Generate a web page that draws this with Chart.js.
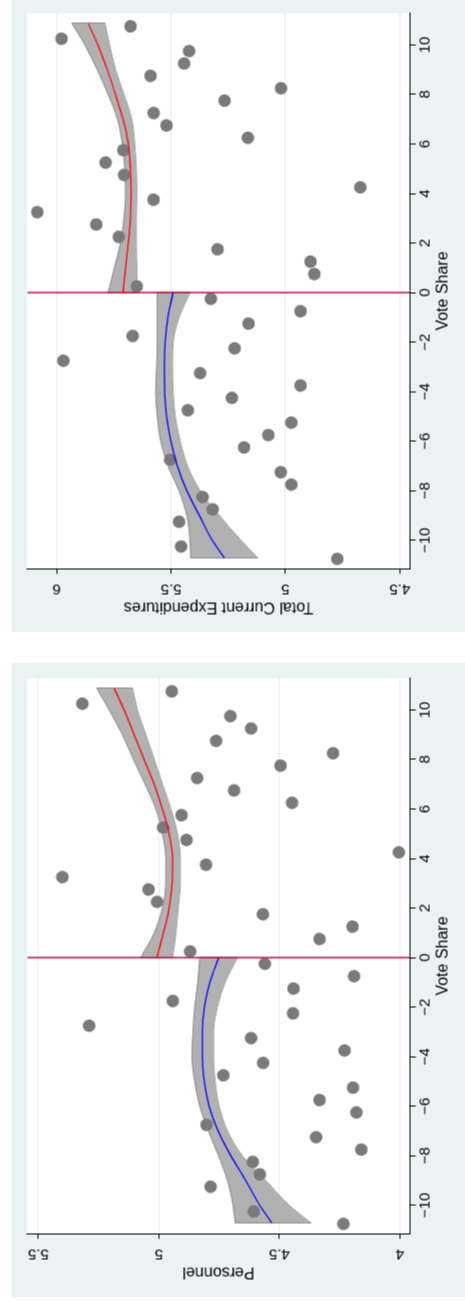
<!DOCTYPE html>
<html><head><meta charset="utf-8">
<script src="https://cdn.jsdelivr.net/npm/chart.js@4.4.0/dist/chart.umd.min.js"></script>
<style>
html,body{margin:0;padding:0;background:#fff;width:465px;height:1301px;overflow:hidden;}
.panel{position:absolute;left:11px;width:454px;height:635px;overflow:hidden;}
.rot{position:absolute;left:-90.5px;top:90.5px;width:635px;height:454px;transform:rotate(-90deg);}
canvas{display:block;}
</style></head><body>
<div class="panel" style="top:-3px"><div class="rot"><canvas id="c1" width="635" height="454"></canvas></div></div>
<div class="panel" style="top:662px"><div class="rot"><canvas id="c2" width="635" height="454"></canvas></div></div>
<script>
// ---------- data ----------
const binCenters = [-10.75,-10.25,-9.25,-8.75,-8.25,-7.75,-7.25,-6.75,-6.25,-5.75,-5.25,-4.75,-4.25,-3.75,-3.25,-2.75,-2.25,-1.75,-1.25,-0.75,-0.25,
  0.25,0.75,1.25,1.75,2.25,2.75,3.25,3.75,4.25,4.75,5.25,5.75,6.25,6.75,7.25,7.75,8.25,8.75,9.25,9.75,10.25,10.75];
const expenditureMeans = [4.773,5.456,5.465,5.318,5.362,4.974,5.020,5.504,5.181,5.075,4.974,5.427,5.234,4.934,5.373,5.971,5.222,5.668,5.161,4.934,5.326,
  5.650,4.874,4.890,5.297,5.729,5.827,6.085,5.577,4.672,5.706,5.786,5.709,5.164,5.520,5.576,5.266,5.019,5.590,5.443,5.421,5.979,5.677];
const personnelMeans = [4.234,4.606,4.785,4.581,4.610,4.160,4.347,4.802,4.180,4.333,4.194,4.732,4.567,4.229,4.617,5.289,4.443,4.942,4.441,4.190,4.560,
  4.870,4.333,4.196,4.568,5.007,5.043,5.400,4.804,4.004,4.885,4.982,4.906,4.447,4.688,4.841,4.495,4.277,4.762,4.617,4.703,5.317,4.946];

const fitLeftX  = [-10.71,-10,-9,-8,-7,-6,-5,-4,-3,-2,-1,0];
const fitRightX = [0,1,2,3,4,5,6,7,8,9,10,10.87];

const expFitLeft   = [5.267,5.320,5.376,5.431,5.472,5.501,5.519,5.528,5.529,5.526,5.514,5.491];
const expHiLeft    = [5.414,5.417,5.431,5.465,5.513,5.545,5.560,5.567,5.563,5.560,5.560,5.560];
const expLoLeft    = [5.121,5.194,5.289,5.373,5.428,5.460,5.482,5.491,5.494,5.491,5.465,5.417];
const expFitRight  = [5.710,5.699,5.687,5.678,5.675,5.678,5.687,5.710,5.743,5.779,5.820,5.862];
const expHiRight   = [5.775,5.748,5.721,5.706,5.699,5.702,5.713,5.734,5.775,5.823,5.877,5.933];
const expLoRight   = [5.648,5.650,5.652,5.652,5.650,5.652,5.659,5.672,5.706,5.743,5.769,5.789];

const perFitLeft   = [4.531,4.581,4.639,4.701,4.754,4.791,4.811,4.819,4.819,4.811,4.788,4.751];
const perHiLeft    = [4.683,4.692,4.715,4.752,4.794,4.830,4.851,4.862,4.858,4.851,4.838,4.830];
const perLoLeft    = [4.369,4.459,4.556,4.653,4.715,4.750,4.766,4.773,4.773,4.757,4.725,4.674];
const perFitRight  = [5.008,4.981,4.957,4.945,4.943,4.957,4.985,5.019,5.061,5.102,5.144,5.185];
const perHiRight   = [5.075,5.019,4.985,4.971,4.971,4.985,5.012,5.057,5.105,5.151,5.206,5.257];
const perLoRight   = [4.943,4.929,4.920,4.911,4.911,4.923,4.950,4.985,5.019,5.054,5.089,5.109];

const voteShareTicks   = [-10,-8,-6,-4,-2,0,2,4,6,8,10];
const expenditureTicks = [4.5,5,5.5,6];
const personnelTicks   = [4,4.5,5,5.5];
const voteShareRange   = [-11.15,11.28];
const expenditureRange = [4.456,6.129];
const personnelRange   = [3.9585,5.546];
const cutoff = 0;

// ---------- styling ----------
const BAND_FILL = '#b1b1b1', BAND_EDGE = '#878787', DOT = '#7a7a7a';
Chart.defaults.font.family = "'Liberation Sans', Arial, sans-serif";
Chart.defaults.color = '#000';

const bgPlugin = {
  id: 'bg',
  beforeDraw(chart) {
    const {ctx, chartArea: a, width, height} = chart;
    ctx.save();
    ctx.fillStyle = '#eaf2f3';
    ctx.fillRect(0, 0, width, height);
    ctx.fillStyle = '#ffffff';
    ctx.fillRect(a.left, a.top, a.right - a.left, a.bottom - a.top);
    ctx.restore();
  }
};

function pts(xs, ys) { return xs.map((x, i) => ({x: x, y: ys[i]})); }
const minus = v => String(v).replace('-', '\u2212');

function band(xs, hi, lo) {
  const common = {borderColor: BAND_EDGE, borderWidth: 1, pointRadius: 0, cubicInterpolationMode: 'monotone', order: 5};
  return [
    Object.assign({data: pts(xs, hi), fill: '+1', backgroundColor: BAND_FILL}, common),
    Object.assign({data: pts(xs, lo), fill: false}, common),
  ];
}
function cap(x, hi, lo) {
  return {data: [{x: x, y: hi}, {x: x, y: lo}], borderColor: BAND_EDGE, borderWidth: 1, pointRadius: 0, fill: false, tension: 0, order: 5};
}

function build(id, yTitle, means, fL, hL, lL, fR, hR, lR, yTicks, yRange) {
  const nL = fitLeftX.length - 1, nR = fitRightX.length - 1;
  const datasets = [
    ...band(fitLeftX, hL, lL),
    ...band(fitRightX, hR, lR),
    cap(fitLeftX[0], hL[0], lL[0]),
    cap(fitLeftX[nL], hL[nL], lL[nL]),
    cap(fitRightX[0], hR[0], lR[0]),
    cap(fitRightX[nR], hR[nR], lR[nR]),
    {data: pts(binCenters, means), showLine: false, pointRadius: 6.3, pointBackgroundColor: DOT, pointBorderColor: DOT, pointBorderWidth: 0, order: 3},
    {data: [{x: cutoff, y: yRange[0]}, {x: cutoff, y: yRange[1]}], borderColor: '#c8103c', borderWidth: 1.5, pointRadius: 0, fill: false, order: 2},
    {data: pts(fitLeftX, fL), borderColor: '#0000ff', borderWidth: 1.3, pointRadius: 0, fill: false, cubicInterpolationMode: 'monotone', order: 1},
    {data: pts(fitRightX, fR), borderColor: '#ff0000', borderWidth: 1.3, pointRadius: 0, fill: false, cubicInterpolationMode: 'monotone', order: 1},
  ];
  return new Chart(document.getElementById(id), {
    type: 'line',
    data: {datasets: datasets},
    plugins: [bgPlugin],
    options: {
      responsive: false, animation: false, devicePixelRatio: 1,
      layout: {padding: {left: 0, right: 15.7, top: 15.7, bottom: 0}},
      plugins: {legend: {display: false}, tooltip: {enabled: false}},
      elements: {line: {borderCapStyle: 'butt'}},
      scales: {
        x: {
          type: 'linear', min: voteShareRange[0], max: voteShareRange[1],
          afterBuildTicks: s => { s.ticks = voteShareTicks.map(v => ({value: v})); },
          ticks: {autoSkip: false, minRotation: 0, maxRotation: 0, padding: 1, font: {size: 15}, color: '#000', callback: v => minus(v)},
          grid: {drawOnChartArea: false, drawTicks: true, tickLength: 6, tickColor: '#000', tickWidth: 1},
          border: {display: true, color: '#000', width: 1},
          title: {display: true, text: 'Vote Share', color: '#000', font: {size: 16}, padding: {top: 0, bottom: 12.9}},
          afterFit: s => { s.height = 55.7; }
        },
        y: {
          type: 'linear', min: yRange[0], max: yRange[1],
          afterBuildTicks: s => { s.ticks = yTicks.map(v => ({value: v})); },
          ticks: {autoSkip: false, minRotation: 90, maxRotation: 90, crossAlign: 'center', padding: 4.3, font: {size: 15}, color: '#000', callback: v => minus(v)},
          grid: {color: '#e2ebee', lineWidth: 1, drawTicks: true, tickLength: 5, tickColor: '#000', tickWidth: 1},
          border: {display: true, color: '#000', width: 1},
          title: {display: true, text: yTitle, color: '#000', font: {size: 16}, padding: {top: 15.7, bottom: 0}},
          afterFit: s => { s.width = 63.7; }
        }
      }
    }
  });
}

build('c1', 'Total Current Expenditures', expenditureMeans,
  expFitLeft, expHiLeft, expLoLeft, expFitRight, expHiRight, expLoRight, expenditureTicks, expenditureRange);
build('c2', 'Personnel', personnelMeans,
  perFitLeft, perHiLeft, perLoLeft, perFitRight, perHiRight, perLoRight, personnelTicks, personnelRange);
</script></body></html>
